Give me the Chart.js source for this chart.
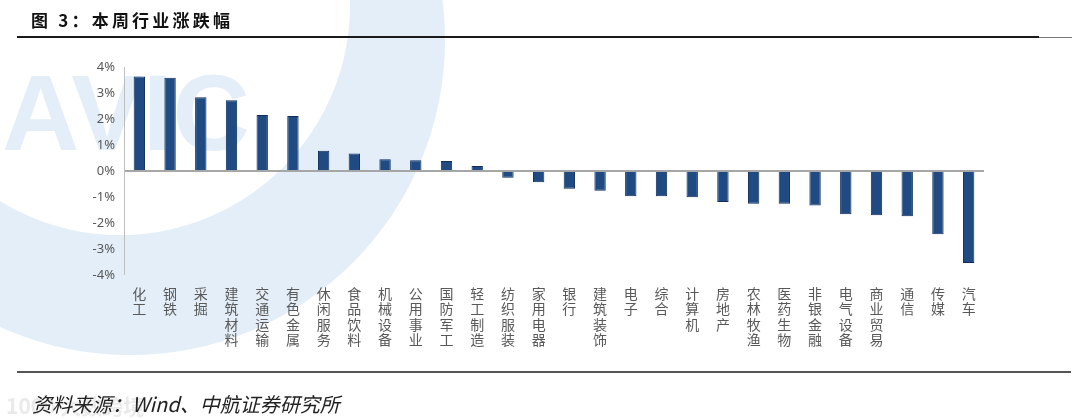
<!DOCTYPE html>
<html><head><meta charset="utf-8">
<script src="https://cdn.jsdelivr.net/npm/chart.js@4.4.1/dist/chart.umd.min.js"></script>
<style>
html,body{margin:0;padding:0;background:#fff;}
#wrap{position:relative;width:1080px;height:419px;overflow:hidden;background:#fff;}
#bg{position:absolute;left:0;top:0;}
#c{position:absolute;left:0;top:0;}
.title{position:absolute;left:31px;top:7px;font:bold 17px "Noto Sans CJK SC";letter-spacing:3.2px;color:#111;white-space:nowrap;}
.line1{position:absolute;left:17px;top:36px;width:1022px;height:2px;background:#1a1a1a;}
.line1b{position:absolute;left:1039px;top:37px;width:33px;height:1px;background:#777;}
.line2{position:absolute;left:17px;top:371px;width:1054px;height:2px;background:#555;}
.src{position:absolute;left:32px;top:389px;font:italic 20px "Noto Sans CJK SC";color:#222;white-space:nowrap;}
.wm{position:absolute;left:6px;top:390px;font:bold 21px "Noto Sans CJK SC";color:rgba(232,232,232,0.9);white-space:nowrap;}
</style>
</head><body>
<div id="wrap">
<svg id="bg" width="1080" height="419" xmlns="http://www.w3.org/2000/svg">
  <path fill="#e3eef8" fill-rule="evenodd" d="M -185 40 A 315 315 0 1 0 445 40 A 315 315 0 1 0 -185 40 Z M -110 5 A 230 230 0 1 0 350 5 A 230 230 0 1 0 -110 5 Z"/>
  <text x="2" y="150" font-family="Liberation Sans" font-weight="bold" font-size="107" fill="#e3eef8">AVIC</text>
</svg>
<canvas id="c" width="1080" height="419"></canvas>
<div class="title">图 3：本周行业涨跌幅</div>
<div class="line1"></div><div class="line1b"></div>
<div class="line2"></div>
<div class="wm">1000 大数跨境</div>
<div class="src">资料来源：Wind、中航证券研究所</div>
</div>
<script>
const categories = ['化工','钢铁','采掘','建筑材料','交通运输','有色金属','休闲服务','食品饮料','机械设备','公用事业','国防军工','轻工制造','纺织服装','家用电器','银行','建筑装饰','电子','综合','计算机','房地产','农林牧渔','医药生物','非银金融','电气设备','商业贸易','通信','传媒','汽车'];
const changePct = [3.63,3.59,2.84,2.72,2.15,2.12,0.78,0.67,0.45,0.41,0.38,0.19,-0.26,-0.43,-0.68,-0.76,-0.97,-0.97,-1.01,-1.19,-1.26,-1.26,-1.33,-1.66,-1.70,-1.74,-2.43,-3.54];
const yTickMin = -4, yTickMax = 4, yTickStep = 1;

new Chart(document.getElementById('c'), {
  type: 'bar',
  data: {
    labels: categories.map(s => s.split('')),
    datasets: [{
      data: changePct,
      backgroundColor: '#1f4a82',
      borderColor: '#0f2c5c',
      borderWidth: 1,
      categoryPercentage: 1,
      barPercentage: 0.37
    }]
  },
  options: {
    responsive: false,
    animation: false,
    layout: { padding: { left: 64, right: 96, top: 67, bottom: 0 } },
    plugins: { legend: { display: false }, tooltip: { enabled: false } },
    scales: {
      x: {
        grid: { display: false, drawTicks: false },
        border: { display: false },
        ticks: {
          color: '#595959',
          font: { family: '"Noto Sans CJK SC"', size: 14, lineHeight: 1.1 },
          maxRotation: 0, minRotation: 0, autoSkip: false, padding: 11
        },
        afterFit: s => { s.height = 144; }
      },
      y: {
        min: yTickMin, max: yTickMax,
        ticks: {
          stepSize: yTickStep,
          color: '#595959',
          font: { family: '"Noto Sans"', size: 13 },
          padding: 9,
          callback: v => v + '%'
        },
        grid: {
          drawTicks: false,
          color: c => (c.tick && c.tick.value === 0) ? '#a6a6a6' : 'rgba(0,0,0,0)',
          lineWidth: c => (c.tick && c.tick.value === 0) ? 2 : 0
        },
        border: { display: true, color: '#bfbfbf', width: 1 },
        afterFit: s => { s.width = 60; }
      }
    }
  }
});
</script>
</body></html>
